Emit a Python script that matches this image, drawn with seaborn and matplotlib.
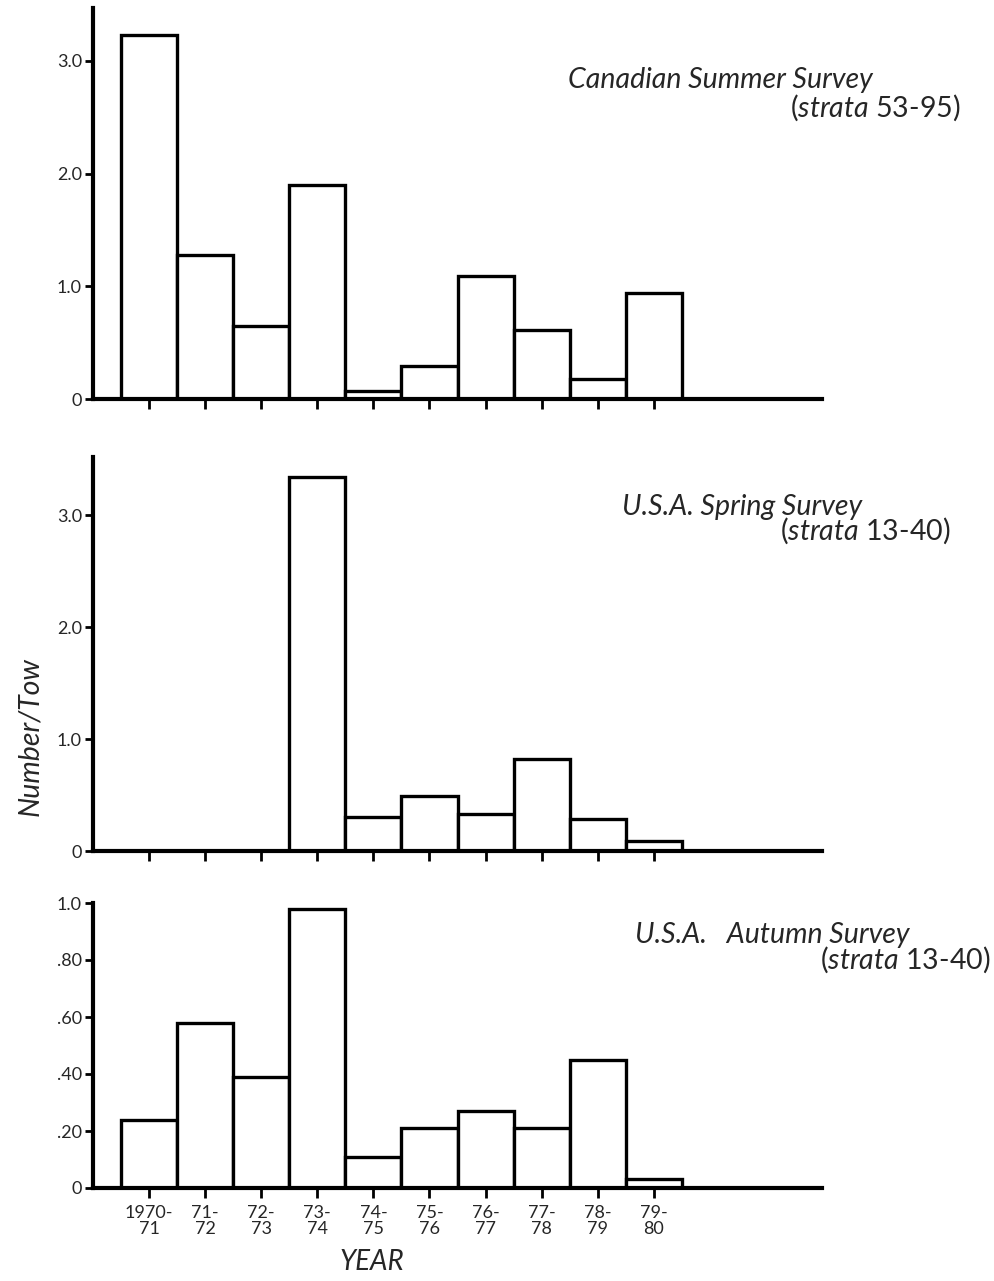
import matplotlib
matplotlib.use("Agg")
import matplotlib.pyplot as plt
import seaborn as sns
import pandas as pd

# ---- data ----
years = ["1970-\n71", "71-\n72", "72-\n73", "73-\n74", "74-\n75",
         "75-\n76", "76-\n77", "77-\n78", "78-\n79", "79-\n80"]
canadian_summer = [3.23, 1.28, 0.65, 1.90, 0.07, 0.29, 1.09, 0.61, 0.18, 0.94]
usa_spring = [0.0, 0.0, 0.0, 3.34, 0.30, 0.49, 0.33, 0.82, 0.29, 0.09]
usa_autumn = [0.24, 0.58, 0.39, 0.98, 0.11, 0.21, 0.27, 0.21, 0.45, 0.03]

ticks_big = [0, 1.0, 2.0, 3.0]
ticklabels_big = ["0", "1.0", "2.0", "3.0"]
ticks_small = [0, 0.2, 0.4, 0.6, 0.8, 1.0]
ticklabels_small = ["0", ".20", ".40", ".60", ".80", "1.0"]

titles = [("Canadian Summer Survey", r"($\mathit{strata}$ 53-95)"),
          ("U.S.A. Spring Survey", r"($\mathit{strata}$ 13-40)"),
          ("U.S.A.   Autumn Survey", r"($\mathit{strata}$ 13-40)")]

sns.set_theme(style="white")
plt.rcParams["font.family"] = ["Lato", "DejaVu Sans"]
plt.rcParams["mathtext.fontset"] = "custom"
plt.rcParams["mathtext.it"] = "Lato:italic"
plt.rcParams["mathtext.rm"] = "Lato"

W, H = 995, 1281
fig = plt.figure(figsize=(W / 100, H / 100), dpi=100)
fig.patch.set_facecolor("white")

def px_axes(left, top, right, bottom):
    return fig.add_axes([left / W, 1 - bottom / H, (right - left) / W, (bottom - top) / H])

panels = [
    (px_axes(93, 8, 822, 399), canadian_summer, 3.47, ticks_big, ticklabels_big),
    (px_axes(93, 457, 822, 851), usa_spring, 3.52, ticks_big, ticklabels_big),
    (px_axes(93, 903, 822, 1188), usa_autumn, 1.0, ticks_small, ticklabels_small),
]

for i, (ax, vals, ytop, yt, ytl) in enumerate(panels):
    df = pd.DataFrame({"year": years, "value": vals})
    sns.barplot(data=df, x="year", y="value", order=years, ax=ax,
                color="white", edgecolor="black", linewidth=2.4,
                width=1.0, saturation=1)
    ax.set_xlim(-1.0, 12.0)
    ax.set_ylim(0, ytop)
    ax.set_facecolor("white")
    for s in ["top", "right"]:
        ax.spines[s].set_visible(False)
    for s in ["left", "bottom"]:
        ax.spines[s].set_linewidth(3)
        ax.spines[s].set_color("black")
    ax.set_yticks(yt)
    ax.set_yticklabels(ytl, fontsize=13)
    ax.set_xticks(range(len(years)))
    if i == 2:
        ax.set_xticklabels(years, fontsize=13, linespacing=1.0)
    else:
        ax.set_xticklabels([])
    ax.tick_params(axis="x", bottom=True, direction="out", length=7, width=2,
                   color="black", pad=5)
    ax.tick_params(axis="y", left=True, direction="out", length=6, width=2,
                   color="black", pad=2)
    ax.set_xlabel("")
    ax.set_ylabel("")

# survey titles
title_pos = [((873, 80), (960, 108)),
             ((862, 507), (950, 531)),
             ((910, 935), (990, 960))]
for (l1, l2), ((x1, y1), (x2, y2)) in zip(titles, title_pos):
    fig.text(x1 / W, 1 - y1 / H, l1, ha="right", va="center",
             fontsize=20.5, style="italic")
    fig.text(x2 / W, 1 - y2 / H, l2, ha="right", va="center", fontsize=20.5)

fig.text(30 / W, 1 - 737 / H, "Number/Tow", rotation=90, ha="center",
         va="center", fontsize=20.5, style="italic")
fig.text(372 / W, 1 - 1262 / H, "YEAR", ha="center", va="center",
         fontsize=20, style="italic")

fig.savefig("out.png", dpi=100, facecolor="white")
